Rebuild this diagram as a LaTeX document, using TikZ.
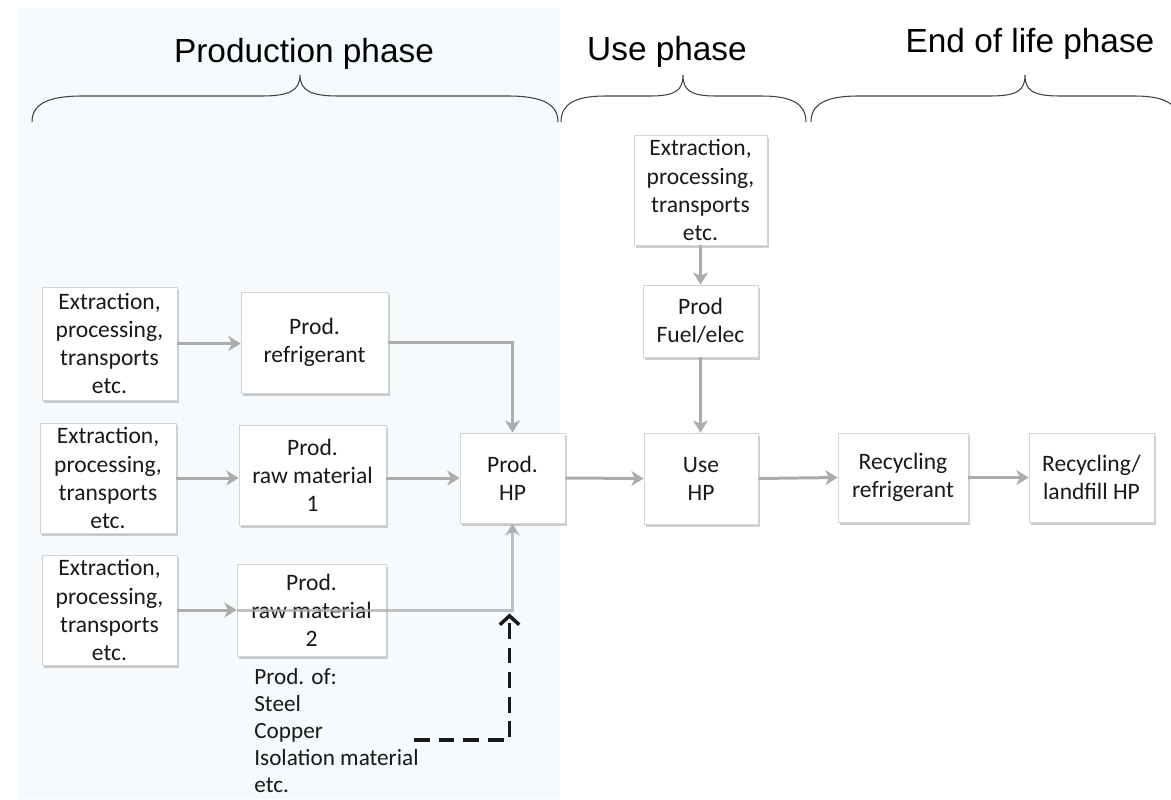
\documentclass[tikz,border=0pt]{standalone}
\usepackage{fontspec}
\setmainfont{Carlito}
\newfontfamily\headfont{Liberation Sans}
\usetikzlibrary{arrows.meta,shadows}
\definecolor{panel}{RGB}{246,250,252}
\definecolor{arr}{RGB}{172,172,172}
\definecolor{bord}{RGB}{212,212,212}
\definecolor{txt}{RGB}{25,25,25}
\definecolor{brc}{RGB}{64,64,64}
\begin{document}
\begin{tikzpicture}[x=0.02cm,y=-0.02cm,
  box/.style={draw=bord, line width=0.4pt, fill=white, align=center, inner sep=1pt,
    font=\fontsize{13.4}{16}\selectfont, text=txt,
    drop shadow={shadow xshift=1.2pt, shadow yshift=-1.6pt, opacity=0.35, fill=black!55}},
  flow/.style={draw=arr, line width=1.7pt, -{Stealth[length=7pt,width=8.5pt,inset=2pt]}},
  head/.style={font=\headfont\fontsize{19}{22}\selectfont, text=black, inner sep=0pt},
  bracepath/.style={draw=brc, line width=0.6pt},
  dashflow/.style={draw=black!90, line width=2.2pt, dash pattern=on 9pt off 5pt,
    -{Straight Barb[length=5pt,width=11pt,line width=2pt]}},
  note/.style={anchor=north west, align=left, inner sep=0pt,
    font=\fontsize{13.2}{15.4}\selectfont, text=txt}
]
\useasboundingbox (0,0) rectangle (1171,799);
% background panel
\fill[panel] (18,8) rectangle (560,799);

% headings
\node[head] (hprod) at (304,54) {Production phase};
\node[head] (huse) at (667,52) {Use phase};
\node[head] (heol) at (1030,44) {End of life phase};

% braces
\draw[bracepath] (32,122) .. controls (32,104) and (48,96) .. (82,96) -- (262,96)
  .. controls (290,96) and (300,90) .. (300,75) .. controls (300,90) and (310,96) .. (338,96)
  -- (508,96) .. controls (542,96) and (558,104) .. (558,122);
\draw[bracepath] (561,122) .. controls (561,104) and (575,96) .. (605,96) -- (650,96)
  .. controls (676,96) and (683,90) .. (683,75) .. controls (683,90) and (690,96) .. (716,96)
  -- (762,96) .. controls (792,96) and (806,104) .. (806,122);
\draw[bracepath] (811,122) .. controls (811,104) and (826,96) .. (858,96) -- (990,96)
  .. controls (1018,96) and (1025,90) .. (1025,75) .. controls (1025,90) and (1032,96) .. (1060,96)
  -- (1135,96) .. controls (1160,96) and (1172,102) .. (1176,110);

% boxes
\node[box, minimum width=2.70cm, minimum height=2.26cm] (E1) at (109.5,343.5) {Extraction,\\processing,\\transports\\etc.};
\node[box, minimum width=2.94cm, minimum height=2.02cm] (REF) at (314.5,342.5) {Prod.\\refrigerant};
\node[box, minimum width=2.72cm, minimum height=2.20cm] (E2) at (108,478) {Extraction,\\processing,\\transports\\etc.};
\node[box, minimum width=2.94cm, minimum height=2.00cm] (RM1) at (312.5,475) {Prod.\\raw material\\1};
\node[box, minimum width=2.10cm, minimum height=1.80cm] (HP) at (512.5,478) {Prod.\\HP};
\node[box, minimum width=2.28cm, minimum height=1.82cm] (USE) at (701,478.5) {Use\\HP};
\node[box, minimum width=2.60cm, minimum height=1.78cm] (RR) at (903,477.5) {Recycling\\refrigerant};
\node[box, minimum width=2.50cm, minimum height=1.78cm] (RL) at (1091.5,477.5) {Recycling/\\landfill HP};
\node[box, minimum width=2.70cm, minimum height=2.20cm] (E3) at (109.5,610) {Extraction,\\processing,\\transports\\etc.};
\node[box, minimum width=2.98cm, minimum height=1.84cm] (RM2) at (311.5,610) {Prod.\\raw material\\2};
\node[box, minimum width=2.66cm, minimum height=2.20cm] (E4) at (700.5,190) {Extraction,\\processing,\\transports\\etc.};
\node[box, minimum width=2.30cm, minimum height=1.44cm] (FUEL) at (700.5,321) {Prod\\Fuel/elec};

% note
\node[note] (prodof) at (254,668) {Prod. of:\\Steel\\Copper\\Isolation material\\etc.};

% connectors
\draw[flow] (E1.east) -- (E1.east -| REF.west);
\draw[flow] (REF.east) -| (HP.north);
\draw[flow] (E2.east) -- (E2.east -| RM1.west);
\draw[flow] (RM1.east |- HP.west) -- (HP.west);
\draw[flow] (E3.east) -- (E3.east -| RM2.west);
\draw[flow, draw opacity=0.75] (RM2.west) -| (HP.south);
\draw[flow] (HP.east) -- (USE.west);
\draw[flow] (E4.south) -- (E4.south |- FUEL.north);
\draw[flow] (FUEL.south) -- (FUEL.south |- USE.north);
\draw[flow] (USE.east) -- (RR.west);
\draw[flow] (RR.east) -- (RL.west);

% dashed arrow
\coordinate (dstart) at (414,740);
\coordinate (junc) at ([xshift=-0.06cm]HP.south |- RM2.west);
\draw[dashflow] (dstart) -| ([yshift=-2pt]junc);
\end{tikzpicture}
\end{document}
